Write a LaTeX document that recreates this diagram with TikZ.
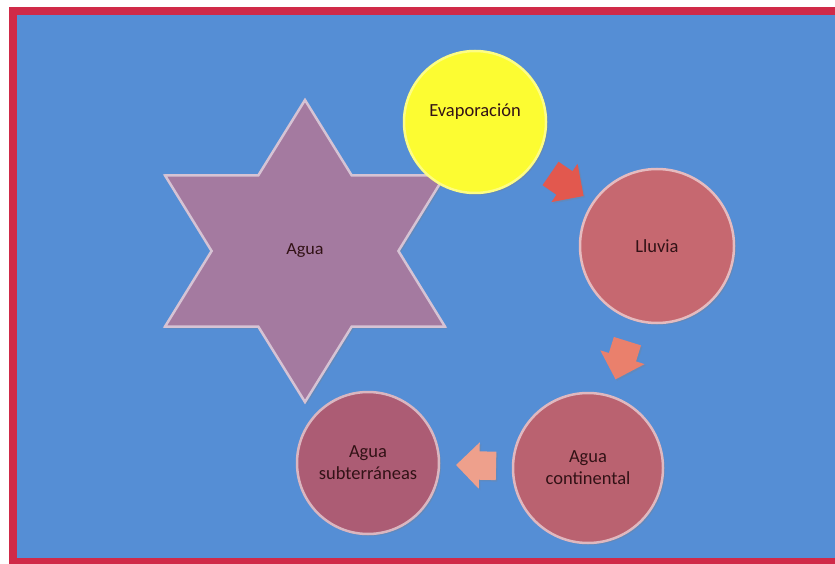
\documentclass[tikz,border=0pt]{standalone}
\usepackage{fontspec}
\setmainfont{Carlito}
\usepackage{xcolor}
\usetikzlibrary{shapes.geometric}
\usetikzlibrary{shapes.arrows}
\usetikzlibrary{shadows}

\definecolor{fondo}{RGB}{85,142,213}
\definecolor{marco}{RGB}{208,42,72}
\definecolor{texto}{RGB}{50,18,22}
\definecolor{amarillo}{RGB}{252,252,50}
\definecolor{lluviac}{RGB}{198,104,112}
\definecolor{contic}{RGB}{186,98,112}
\definecolor{subtc}{RGB}{172,92,116}
\definecolor{estrella}{RGB}{164,122,160}
\definecolor{flechaa}{RGB}{226,88,78}
\definecolor{flechab}{RGB}{234,128,108}
\definecolor{flechac}{RGB}{238,160,140}

\begin{document}
\begin{tikzpicture}[x=1pt,y=-1pt,
	bubble/.style={
		circle, fill=#1, draw=#1!45!white, line width=2.5pt,
		inner sep=0pt, align=center, text=texto,
		font=\fontsize{18.5}{22}\selectfont,
		drop shadow={opacity=0.3,shadow xshift=2pt,shadow yshift=-2pt}
	}]
	%\draw[help lines,step=50] (0,0) grid (835,564);
	\tikzstyle{flecha} = [single arrow,draw=none,minimum height=40pt,minimum width=46pt,single arrow head extend=9pt,inner xsep=0pt,inner ysep=14pt,sloped,allow upside down,drop shadow={opacity=0.25,shadow xshift=1.5pt,shadow yshift=-1.5pt}]

	\useasboundingbox (0,0) rectangle (835,564);
	\fill[white] (0,0) rectangle (835,564);
	\fill[marco] (9,7) rectangle (835,564);
	\fill[fondo] (17,15) rectangle (835,558);

	\node[star,star points=6,star point ratio=1.73,minimum size=302pt,inner sep=0pt,
		xscale=1.07,transform shape,
		fill=estrella,draw=estrella!45!white,line width=2.5pt,text=texto,
		font=\fontsize{17}{21}\selectfont,
		drop shadow={opacity=0.3,shadow xshift=2pt,shadow yshift=-2pt}] (agua) at (305,251) {Agua};

	\node[bubble=amarillo,minimum size=142pt,draw=amarillo!60!white] (evap) at (475,122) {Evaporación\\[2pt]};
	\node[bubble=lluviac,minimum size=154pt] (lluvia) at (657,246) {Lluvia};
	\node[bubble=contic,minimum size=150pt] (cont) at (588,468) {Agua\\continental};
	\node[bubble=subtc,minimum size=142pt] (subt) at (368,463) {Agua\\subterráneas};

	\path (evap) -- node[flecha,fill=flechaa,pos=0.46] {} (lluvia);
	\path (lluvia) -- node[flecha,fill=flechab,pos=0.44] {} (cont);
	\path (cont) -- node[flecha,fill=flechac,pos=0.4] {} (subt);

\end{tikzpicture}
\end{document}
